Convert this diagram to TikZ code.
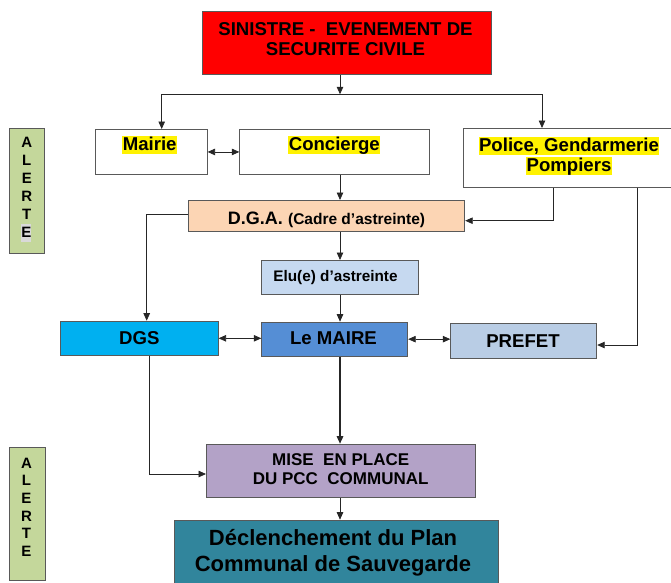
\documentclass[tikz,border=0pt]{standalone}
\usepackage{fontspec}
\setmainfont{Liberation Sans}
\usetikzlibrary{arrows.meta}
\definecolor{cRed}{HTML}{FF0000}
\definecolor{cAlert}{HTML}{C4D79B}
\definecolor{cDga}{HTML}{FCD5B4}
\definecolor{cElu}{HTML}{C6D9F0}
\definecolor{cDgs}{HTML}{00B0F0}
\definecolor{cMaire}{HTML}{558ED5}
\definecolor{cPrefet}{HTML}{B9CDE5}
\definecolor{cMise}{HTML}{B3A2C7}
\definecolor{cDecl}{HTML}{31859C}
\definecolor{cHlGray}{HTML}{D9D9D9}
\begin{document}
\begin{tikzpicture}[x=1pt,y=-1pt,
  box/.style={draw=black!65, line width=0.9pt, anchor=north west, inner sep=0pt},
  lbl/.style={anchor=base, inner sep=0pt, font=\bfseries\fontsize{18.6}{20}\selectfont},
  smalllbl/.style={anchor=base, inner sep=0pt, font=\bfseries\fontsize{15.3}{18}\selectfont},
  miselbl/.style={anchor=base, inner sep=0pt, font=\bfseries\fontsize{17}{19}\selectfont},
  decllbl/.style={anchor=base, inner sep=0pt, font=\bfseries\fontsize{22}{25}\selectfont},
  letter/.style={inner sep=0pt, font=\bfseries\fontsize{15}{18}\selectfont},
  hl/.style={fill=yellow, inner xsep=0.5pt, inner ysep=0pt, text height=15pt, text depth=3.5pt},
  conn/.style={draw=black!85, line width=0.8pt},
  arr/.style={conn, -{Triangle[length=7.5pt,width=6.5pt]}},
  darr/.style={conn, {Triangle[length=7.5pt,width=6.5pt]}-{Triangle[length=7.5pt,width=6.5pt]}},
]
\useasboundingbox (0,0) rectangle (671,582);

% boxes
\node[box, fill=cRed, minimum width=289.3pt, minimum height=63pt] (sin) at (201.7,11) {};
\node[box, fill=white, minimum width=112pt, minimum height=45pt] (mairie) at (94.7,129) {};
\node[box, fill=white, minimum width=190pt, minimum height=45pt] (conc) at (239.3,129) {};
\node[box, fill=white, minimum width=215pt, minimum height=58.7pt] (police) at (463,128) {};
\node[box, fill=cDga, minimum width=276pt, minimum height=31.3pt] (dga) at (188.3,200) {};
\node[box, fill=cElu, minimum width=157pt, minimum height=34pt] (elu) at (261.3,260) {};
\node[box, fill=cDgs, minimum width=157.4pt, minimum height=34.3pt] (dgs) at (60.3,320.7) {};
\node[box, fill=cMaire, minimum width=146pt, minimum height=34pt] (maire) at (261.3,321.7) {};
\node[box, fill=cPrefet, minimum width=146pt, minimum height=34.7pt] (prefet) at (450.3,323.3) {};
\node[box, fill=cMise, minimum width=269.3pt, minimum height=53.3pt] (mise) at (206,443.7) {};
\node[box, fill=cDecl, minimum width=323.7pt, minimum height=80pt] (decl) at (174.3,519.7) {};
\node[box, fill=cAlert, minimum width=35pt, minimum height=125pt] (alerta) at (9.3,128.3) {};
\node[box, fill=cAlert, minimum width=36pt, minimum height=133pt] (alertb) at (9.3,447.3) {};

% texts
\node[lbl] (tsin1) at (345.5,35) {SINISTRE -\ \ EVENEMENT DE};
\node[lbl] (tsin2) at (345.5,55) {SECURITE CIVILE};
\node[lbl, hl] (tmairie) at (149.7,150.7) {Mairie};
\node[lbl, hl] (tconc) at (334.3,150.7) {Concierge};
\node[lbl, hl] (tpol1) at (569,151.7) {Police, Gendarmerie};
\node[lbl, hl] (tpol2) at (569,171.7) {Pompiers};
\node[lbl] (tdga) at (326.5,224) {{\fontsize{18}{20}\selectfont D.G.A.} {\fontsize{15.5}{18}\selectfont(Cadre d’astreinte)}};
\node[smalllbl] (telu) at (335.5,281.3) {Elu(e) d’astreinte};
\node[lbl] (tdgs) at (139.3,344.7) {DGS};
\node[lbl] (tmaire) at (333.5,344.7) {Le MAIRE};
\node[lbl] (tprefet) at (523,347.3) {PREFET};
\node[miselbl] (tmise1) at (340.7,465.7) {MISE\ \ EN PLACE};
\node[miselbl] (tmise2) at (340.7,484.7) {DU PCC\ \ COMMUNAL};
\node[decllbl] (tdecl1) at (333,545.7) {Déclenchement du Plan};
\node[decllbl] (tdecl2) at (333,571.3) {Communal de Sauvegarde};

\foreach \l [count=\i] in {A,L,E,R,T}
  \node[letter] (la\i) at (26.8,{142.3+18*(\i-1)}) {\l};
\node[letter, fill=cHlGray, minimum width=10pt, minimum height=18pt] (la6) at (26.3,232.8) {E};
\foreach \l [count=\i] in {A,L,E,R,T,E}
  \node[letter] (lb\i) at (26.5,{463+17.7*(\i-1)}) {\l};

% helper coordinates
\coordinate (xa) at (340,0);
\coordinate (j1) at (340,94.3);
\coordinate (jl) at (161.7,94.3);
\coordinate (jr) at (542,94.3);
\coordinate (p1) at (553,220.7);
\coordinate (p2) at (637,345);
\coordinate (d1) at (146.7,214);
\coordinate (d2) at (149.7,474);

% connectors
\draw[arr] (sin.south -| xa) -- (j1);
\draw[conn] (jl) -- (jr);
\draw[arr] (jl) -- (jl |- mairie.north);
\draw[arr] (jr) -- (jr |- police.north);
\draw[darr] (mairie.east) -- (conc.west);
\draw[arr] (conc.south -| xa) -- (dga.north -| xa);
\draw[arr] (police.south -| p1) -- (p1) -- (dga.east |- p1);
\draw[arr] (police.south -| p2) -- (p2) -- (prefet.east |- p2);
\draw[arr] (dga.west |- d1) -- (d1) -- (d1 |- dgs.north);
\draw[arr] (dga.south -| xa) -- (elu.north -| xa);
\draw[arr] (elu.south -| xa) -- (maire.north -| xa);
\draw[darr] (dgs.east) -- (dgs.east -| maire.west);
\draw[darr] (maire.east) -- (maire.east -| prefet.west);
\draw[arr, line width=1.3pt] (maire.south -| xa) -- (mise.north -| xa);
\draw[arr] (dgs.south -| d2) -- (d2) -- (mise.west |- d2);
\draw[arr] (mise.south -| xa) -- (decl.north -| xa);
\end{tikzpicture}
\end{document}
